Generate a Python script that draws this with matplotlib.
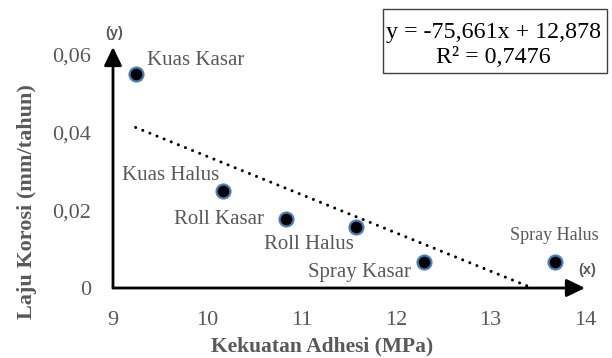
import numpy as np
import matplotlib
matplotlib.use("Agg")
import matplotlib.pyplot as plt
from matplotlib.patches import Rectangle

# Data: adhesion strength (MPa) vs corrosion rate (mm/year) per coating method
methods = ["Kuas Kasar", "Kuas Halus", "Roll Kasar", "Roll Halus", "Spray Kasar", "Spray Halus"]
adhesion = [9.24, 10.16, 10.83, 11.57, 12.29, 13.68]
corrosion = [0.0550, 0.0250, 0.0177, 0.0156, 0.0068, 0.0066]

x_ticks = [9, 10, 11, 12, 13, 14]
x_tick_labels = ["9", "10", "11", "12", "13", "14"]
y_ticks = [0, 0.02, 0.04, 0.06]
y_tick_labels = ["0", "0,02", "0,04", "0,06"]

equation_text = "y = -75,661x + 12,878\nR² = 0,7476"

GRAY = "#595959"
SERIF = ["Liberation Serif", "DejaVu Serif"]
plt.rcParams["font.family"] = SERIF

W, H = 612, 358
fig = plt.figure(figsize=(W / 100, H / 100), dpi=100)
ax = fig.add_axes([113 / W, (H - 288) / H, (585 - 113) / W, (288 - 47) / H])
ax.set_xlim(9, 14)
ax.set_ylim(0, 0.06206)

for s in ax.spines.values():
    s.set_visible(False)

# Axes drawn as arrows
arrow = dict(arrowstyle="-|>,head_length=0.56,head_width=0.27", lw=2, color="black",
             mutation_scale=20, shrinkA=0, shrinkB=0)
ax.annotate("", xy=(1, 0), xytext=(0, 0), xycoords="axes fraction", arrowprops=arrow,
            annotation_clip=False)
ax.annotate("", xy=(0, 1), xytext=(0, 0), xycoords="axes fraction", arrowprops=arrow,
            annotation_clip=False)

ax.set_xticks(x_ticks)
ax.set_xticklabels(x_tick_labels)
ax.set_yticks(y_ticks)
ax.set_yticklabels(y_tick_labels)
ax.tick_params(axis="both", length=0, labelsize=16, labelcolor=GRAY)
ax.tick_params(axis="x", pad=16.5)
ax.tick_params(axis="y", pad=15.5)

# Linear trend line (least squares)
slope, intercept = np.polyfit(adhesion, corrosion, 1)
xs = np.array([min(adhesion), max(adhesion)])
ax.plot(xs, slope * xs + intercept, color="black", lw=2.2,
        linestyle=(0, (0.01, 2.5)), dash_capstyle="round", zorder=2)

# Scatter points
ax.plot(adhesion, corrosion, linestyle="none", marker="o", markersize=10,
        markerfacecolor="black", markeredgecolor="#4a7ebb", markeredgewidth=1.6,
        zorder=3, clip_on=False)

# Point labels (offsets in points)
offsets = {
    "Kuas Kasar": (8, 10, "left", 15),
    "Kuas Halus": (-2, 11, "right", 15),
    "Roll Kasar": (-16, 0, "right", 15),
    "Roll Halus": (-1, -12, "right", 15),
    "Spray Kasar": (-9, -8, "right", 15),
    "Spray Halus": (0, 19, "center", 13),
}
for name, xv, yv in zip(methods, adhesion, corrosion):
    dx, dy, ha, fs = offsets[name]
    ax.annotate(name, (xv, yv), xytext=(dx, dy), textcoords="offset points",
                ha=ha, va="center", fontsize=fs, color=GRAY, annotation_clip=False)

# Axis markers
fig.text(114 / W, 1 - 33 / H, "(y)", ha="center", va="center", fontsize=10.5,
         fontweight="bold", color=GRAY, family=["Liberation Sans", "DejaVu Sans"])
fig.text(587.5 / W, 1 - 270 / H, "(x)", ha="center", va="center", fontsize=10.5,
         fontweight="bold", color=GRAY, family=["Liberation Sans", "DejaVu Sans"])

# Axis titles
fig.text(322 / W, 1 - 346 / H, "Kekuatan Adhesi (MPa)", ha="center", va="center",
         fontsize=15.5, fontweight="bold", color=GRAY)
fig.text(27 / W, 1 - 202 / H, "Laju Korosi (mm/tahun)", ha="center", va="center",
         rotation=90, fontsize=16, fontweight="bold", color=GRAY)

# Equation box
fig.patches.append(Rectangle((383 / W, 1 - 73 / H), (607 - 383) / W, (73 - 9) / H,
                             transform=fig.transFigure, facecolor="white",
                             edgecolor="#404040", lw=1))
fig.text(493 / W, 1 - 45 / H, equation_text, ha="center", va="center", fontsize=17.3,
         color="black", linespacing=1.3)

fig.savefig("out.png", dpi=100)
